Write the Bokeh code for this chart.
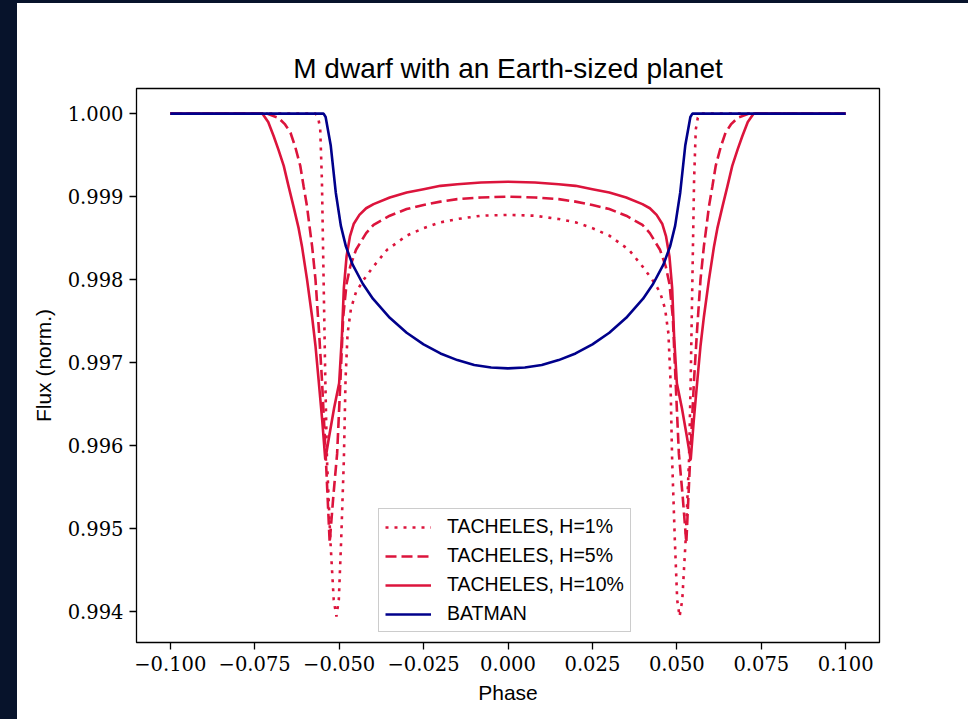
from bokeh.plotting import figure
from bokeh.models import Range1d, FixedTicker, Legend, LegendItem, Spacer
from bokeh.layouts import row, column
from bokeh.embed import file_html
from bokeh.resources import INLINE

# Transit light curves: orbital phase vs. normalised flux
phase_batman = [-0.100, -0.0546, -0.054, -0.0525, -0.051, -0.0495, -0.048, -0.046, -0.043,
                -0.040, -0.035, -0.030, -0.025, -0.020, -0.015, -0.010, -0.005, 0.0,
                0.005, 0.010, 0.015, 0.020, 0.025, 0.030, 0.035, 0.040, 0.043, 0.046,
                0.048, 0.0495, 0.051, 0.0525, 0.054, 0.0546, 0.100]
flux_batman = [1.0, 1.0, 0.99996, 0.99962, 0.99905, 0.99865, 0.99840, 0.99818, 0.99795,
               0.99777, 0.99754, 0.99736, 0.99722, 0.99711, 0.99703, 0.99697, 0.99694, 0.99693,
               0.99694, 0.99697, 0.99703, 0.99711, 0.99722, 0.99736, 0.99754, 0.99777, 0.99795,
               0.99818, 0.99840, 0.99865, 0.99905, 0.99962, 0.99996, 1.0, 1.0]

phase_h10 = [-0.100, -0.0727, -0.0710, -0.0694, -0.0680, -0.0664, -0.0650, -0.0635, -0.0620,
             -0.0610, -0.0595, -0.0580, -0.0570, -0.0561, -0.0550, -0.0541, -0.0530, -0.0515,
             -0.0500, -0.0492, -0.0486, -0.0478, -0.0468, -0.0457, -0.0440, -0.0420, -0.0398,
             -0.0350, -0.0300, -0.0250, -0.0200, -0.0150, -0.0080, 0.0,
             0.0080, 0.0150, 0.0200, 0.0250, 0.0300, 0.0350, 0.0398, 0.0420, 0.0440, 0.0457,
             0.0468, 0.0478, 0.0486, 0.0492, 0.0500, 0.0515, 0.0530, 0.0541, 0.0550, 0.0561,
             0.0570, 0.0580, 0.0595, 0.0610, 0.0620, 0.0635, 0.0650, 0.0664, 0.0680, 0.0694,
             0.0710, 0.0727, 0.100]
flux_h10 = [1.0, 1.0, 0.99990, 0.99973, 0.99957, 0.99937, 0.99913, 0.99888, 0.99862,
            0.99840, 0.99800, 0.99755, 0.99720, 0.99680, 0.99630, 0.99583, 0.99610, 0.99645,
            0.99675, 0.99730, 0.99790, 0.99828, 0.99852, 0.99867, 0.99878, 0.99886, 0.99891,
            0.99899, 0.99905, 0.99909, 0.99913, 0.99915, 0.99917, 0.99918,
            0.99917, 0.99915, 0.99913, 0.99909, 0.99905, 0.99899, 0.99891, 0.99886, 0.99878, 0.99867,
            0.99852, 0.99828, 0.99790, 0.99730, 0.99675, 0.99645, 0.99610, 0.99583, 0.99630, 0.99680,
            0.99720, 0.99755, 0.99800, 0.99840, 0.99862, 0.99888, 0.99913, 0.99937, 0.99957, 0.99973,
            0.99990, 1.0, 1.0]

phase_h5 = [-0.100, -0.0714, -0.0680, -0.0660, -0.0644, -0.0630, -0.0615, -0.0605, -0.0595,
            -0.0588, -0.0580, -0.0570, -0.0560, -0.0551, -0.0540, -0.0528, -0.0517, -0.0506,
            -0.0496, -0.0488, -0.0478, -0.0467, -0.0450, -0.0420, -0.0398, -0.0350, -0.0300,
            -0.0250, -0.0200, -0.0150, -0.0080, 0.0,
            0.0080, 0.0150, 0.0200, 0.0250, 0.0300, 0.0350, 0.0398, 0.0420, 0.0450, 0.0467,
            0.0478, 0.0488, 0.0496, 0.0506, 0.0517, 0.0528, 0.0540, 0.0551, 0.0560, 0.0570,
            0.0580, 0.0588, 0.0595, 0.0605, 0.0615, 0.0630, 0.0644, 0.0660, 0.0680, 0.0714, 0.100]
flux_h5 = [1.0, 1.0, 0.99995, 0.99987, 0.99977, 0.99960, 0.99937, 0.99912, 0.99888,
           0.99865, 0.99840, 0.99800, 0.99740, 0.99680, 0.99590, 0.99483, 0.99540, 0.99590,
           0.99680, 0.99755, 0.99795, 0.99816, 0.99836, 0.99856, 0.99866, 0.99877, 0.99885,
           0.99890, 0.99894, 0.99897, 0.99899, 0.99900,
           0.99899, 0.99897, 0.99894, 0.99890, 0.99885, 0.99877, 0.99866, 0.99856, 0.99836, 0.99816,
           0.99795, 0.99755, 0.99680, 0.99590, 0.99540, 0.99483, 0.99590, 0.99680, 0.99740, 0.99800,
           0.99840, 0.99865, 0.99888, 0.99912, 0.99937, 0.99960, 0.99977, 0.99987, 0.99995, 1.0, 1.0]

phase_h1 = [-0.100, -0.0570, -0.0562, -0.0556, -0.0551, -0.0546, -0.0541, -0.0536, -0.0526,
            -0.0516, -0.0508, -0.0501, -0.0494, -0.0486, -0.0481, -0.0475, -0.0465, -0.0450,
            -0.0427, -0.0400, -0.0358, -0.0300, -0.0250, -0.0200, -0.0150, -0.0080, 0.0,
            0.0080, 0.0150, 0.0200, 0.0250, 0.0300, 0.0358, 0.0400, 0.0427, 0.0450, 0.0465,
            0.0475, 0.0481, 0.0486, 0.0494, 0.0501, 0.0508, 0.0516, 0.0526, 0.0536, 0.0541,
            0.0546, 0.0551, 0.0556, 0.0562, 0.0570, 0.100]
flux_h1 = [1.0, 1.0, 0.99995, 0.99981, 0.99920, 0.99800, 0.99680, 0.99583, 0.99486,
           0.99414, 0.99394, 0.99414, 0.99486, 0.99583, 0.99680, 0.99735, 0.99765, 0.99785,
           0.99800, 0.99815, 0.99836, 0.99853, 0.99862, 0.99869, 0.99873, 0.99877, 0.99878,
           0.99877, 0.99873, 0.99869, 0.99862, 0.99853, 0.99836, 0.99815, 0.99800, 0.99785, 0.99765,
           0.99735, 0.99680, 0.99583, 0.99486, 0.99414, 0.99394, 0.99414, 0.99486, 0.99583, 0.99680,
           0.99800, 0.99920, 0.99981, 0.99995, 1.0, 1.0]

x_ticks = [-0.100, -0.075, -0.050, -0.025, 0.0, 0.025, 0.050, 0.075, 0.100]
x_tick_labels = ["\u22120.100", "\u22120.075", "\u22120.050", "\u22120.025", "0.000",
                 "0.025", "0.050", "0.075", "0.100"]
y_ticks = [0.994, 0.995, 0.996, 0.997, 0.998, 0.999, 1.000]
y_tick_labels = ["0.994", "0.995", "0.996", "0.997", "0.998", "0.999", "1.000"]

series_labels = ["TACHELES, H=1%", "TACHELES, H=5%", "TACHELES, H=10%", "BATMAN"]

RED = "#dc143c"
BLUE = "#00008b"
SANS = "Liberation Sans"
SERIF = "DejaVu Serif"
LW = 2.6

p = figure(width=951, height=716,
           x_range=Range1d(-0.11, 0.11), y_range=Range1d(0.993627, 1.000303),
           output_backend="svg", toolbar_location=None,
           min_border_left=119, min_border_right=89,
           min_border_top=85, min_border_bottom=77,
           title="M dwarf with an Earth-sized planet")

p.title.text_font = SANS
p.title.text_font_size = "28px"
p.title.text_font_style = "normal"
p.title.align = "center"
p.title.text_color = "black"

p.background_fill_color = "white"
p.border_fill_color = "white"
p.outline_line_color = "black"
p.outline_line_width = 1.3
p.grid.visible = False

for ax in (p.xaxis[0], p.yaxis[0]):
    ax.axis_line_color = None
    ax.major_tick_line_color = "black"
    ax.major_tick_line_width = 1.3
    ax.major_tick_out = 7
    ax.major_tick_in = 0
    ax.minor_tick_line_color = None
    ax.major_label_text_font = SERIF
    ax.major_label_text_font_size = "19.5px"
    ax.major_label_text_color = "black"
    ax.axis_label_text_font = SANS
    ax.axis_label_text_font_size = "21px"
    ax.axis_label_text_font_style = "normal"
    ax.axis_label_text_color = "black"

p.xaxis.ticker = FixedTicker(ticks=x_ticks)
p.xaxis.major_label_overrides = {t: s for t, s in zip(x_ticks, x_tick_labels)}
p.yaxis.ticker = FixedTicker(ticks=y_ticks)
p.yaxis.major_label_overrides = {t: s for t, s in zip(y_ticks, y_tick_labels)}
p.xaxis.axis_label = "Phase"
p.yaxis.axis_label = "Flux (norm.)"
p.xaxis.major_label_standoff = 6
p.yaxis.major_label_standoff = 6
p.xaxis.axis_label_standoff = 7
p.yaxis.axis_label_standoff = 10

r_h1 = p.line(phase_h1, flux_h1, line_color=RED, line_width=LW, line_dash="3 6")
r_h5 = p.line(phase_h5, flux_h5, line_color=RED, line_width=LW, line_dash="11 5")
r_h10 = p.line(phase_h10, flux_h10, line_color=RED, line_width=LW)
r_bat = p.line(phase_batman, flux_batman, line_color=BLUE, line_width=LW)

legend = Legend(
    items=[LegendItem(label=lbl, renderers=[r]) for lbl, r in
           zip(series_labels, [r_h1, r_h5, r_h10, r_bat])],
    location=(242, 10),
    label_text_font=SANS, label_text_font_size="19.5px", label_text_color="black",
    glyph_width=46, glyph_height=22, label_height=22, label_standoff=16,
    spacing=6, padding=6, margin=0,
    border_line_color="#cccccc", border_line_width=1.3, border_line_alpha=1.0,
    background_fill_color="white", background_fill_alpha=1.0,
)
p.add_layout(legend, "center")

# dark backdrop strips along the left and top edges of the page
left_strip = Spacer(width=17, height=719, styles={"background-color": "#07132b"})
top_strip = Spacer(width=951, height=3, styles={"background-color": "#07132b"})
page = row(left_strip, column(top_strip, p, spacing=0), spacing=0)

open("out.html", "w").write(file_html(page, INLINE))
